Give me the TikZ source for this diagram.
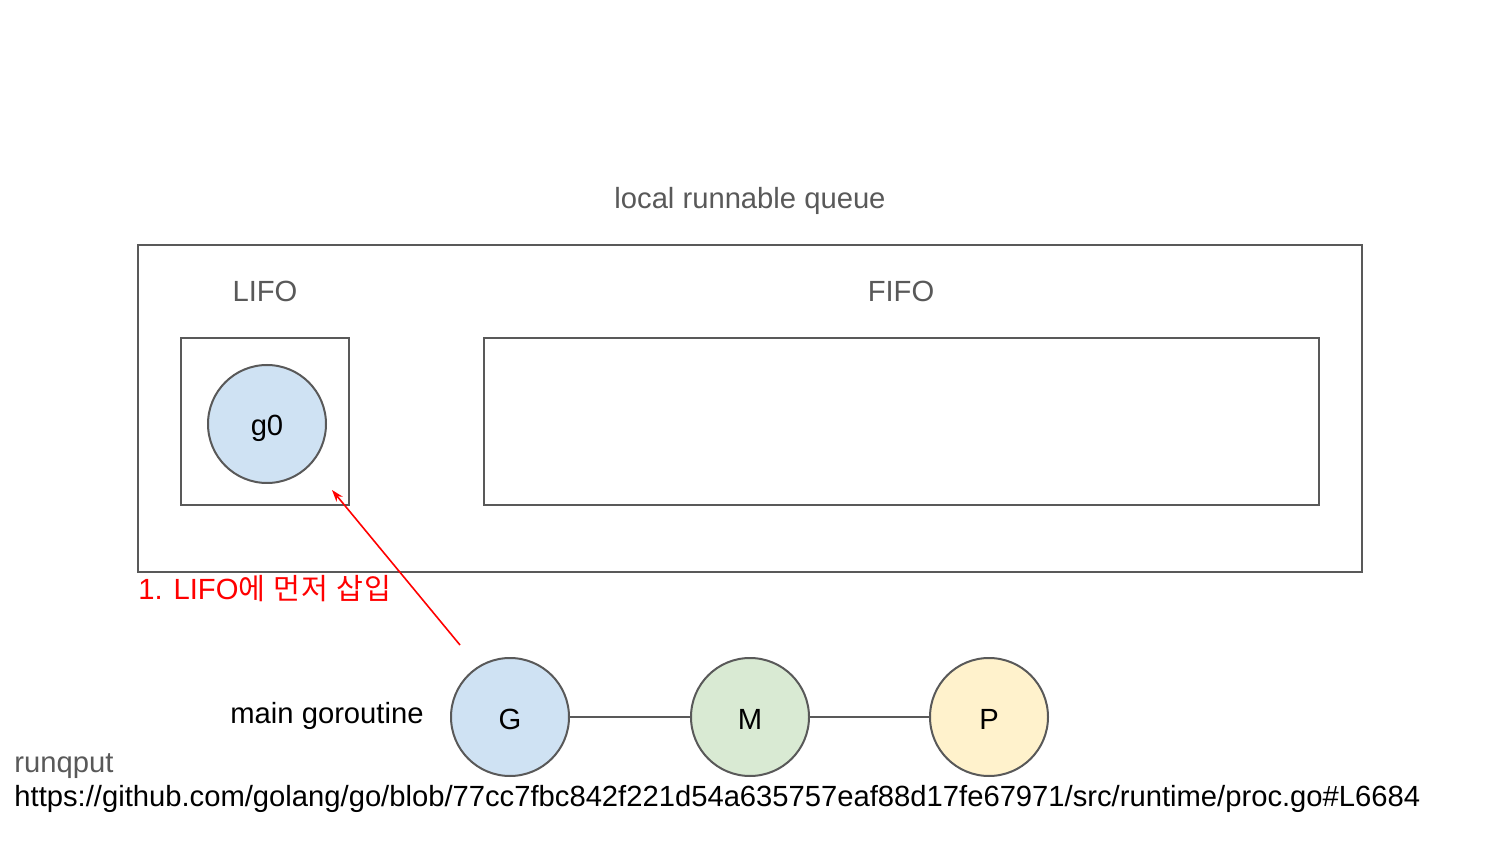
\documentclass[tikz,border=0pt]{standalone}
\usepackage{fontspec}
\setmainfont{Liberation Sans}
\newfontfamily\kr[LetterSpace=5]{Noto Sans CJK KR}
\usetikzlibrary{arrows.meta}
\definecolor{edge}{HTML}{595959}
\definecolor{gblue}{HTML}{CFE2F3}
\definecolor{mgreen}{HTML}{D9EAD3}
\definecolor{pyellow}{HTML}{FFF2CC}
\definecolor{lbl}{HTML}{595959}
\newlength\unitpx
\setlength\unitpx{0.5pt}
\tikzset{
  box/.style={draw=edge, line width=1pt, inner sep=0pt},
  ball/.style={circle, draw=edge, line width=1pt, minimum size=118\unitpx, inner sep=0pt},
  txt/.style={font=\fontsize{14.6}{17}\selectfont, inner sep=0pt, anchor=base},
  glabel/.style={txt, text=lbl},
  link/.style={draw=edge, line width=0.7pt},
}
\begin{document}
\begin{tikzpicture}[x=0.5pt, y=-0.5pt]
\useasboundingbox (0,0) rectangle (1500,844);
% containers
\draw[box] (138,245) rectangle (1362,572);
\draw[box] (181,338) rectangle (349,505);
\draw[box] (484,338) rectangle (1319,505);
\coordinate (lifoin) at (332,490);
% labels
\node[glabel] (lrq) at (750,209) {local runnable queue};
\node[glabel] (lifo) at (265,302) {LIFO};
\node[glabel] (fifo) at (901,302) {FIFO};
% circles
\node[ball, fill=gblue] (g0) at (267,424) {};
\node[ball, fill=gblue] (G) at (510,717) {};
\node[ball, fill=mgreen] (M) at (750,717) {};
\node[ball, fill=pyellow] (P) at (989,717) {};
\node[txt] (g0t) at (267,436) {g0};
\node[txt] (Gt) at (510,729) {G};
\node[txt] (Mt) at (750,729) {M};
\node[txt] (Pt) at (989,729) {P};
\draw[link] (G) -- (M);
\draw[link] (M) -- (P);
\coordinate (arrstart) at (460,645);
\draw[red, line width=0.8pt, -{Stealth[length=6pt,width=4pt]}] (arrstart) -- (lifoin);
\node[txt, anchor=base west, text=red] (step1) at (138,599) {1. LIFO{\kr 에 먼저 삽입}};
\node[txt] (main) at (327,723) {main goroutine};
\node[glabel, anchor=base west] (runq) at (14,772) {runqput};
\node[txt, anchor=base west] (url) at (14,806) {https://github.com/golang/go/blob/77cc7fbc842f221d54a635757eaf88d17fe67971/src/runtime/proc.go\#L6684};
\end{tikzpicture}
\end{document}
